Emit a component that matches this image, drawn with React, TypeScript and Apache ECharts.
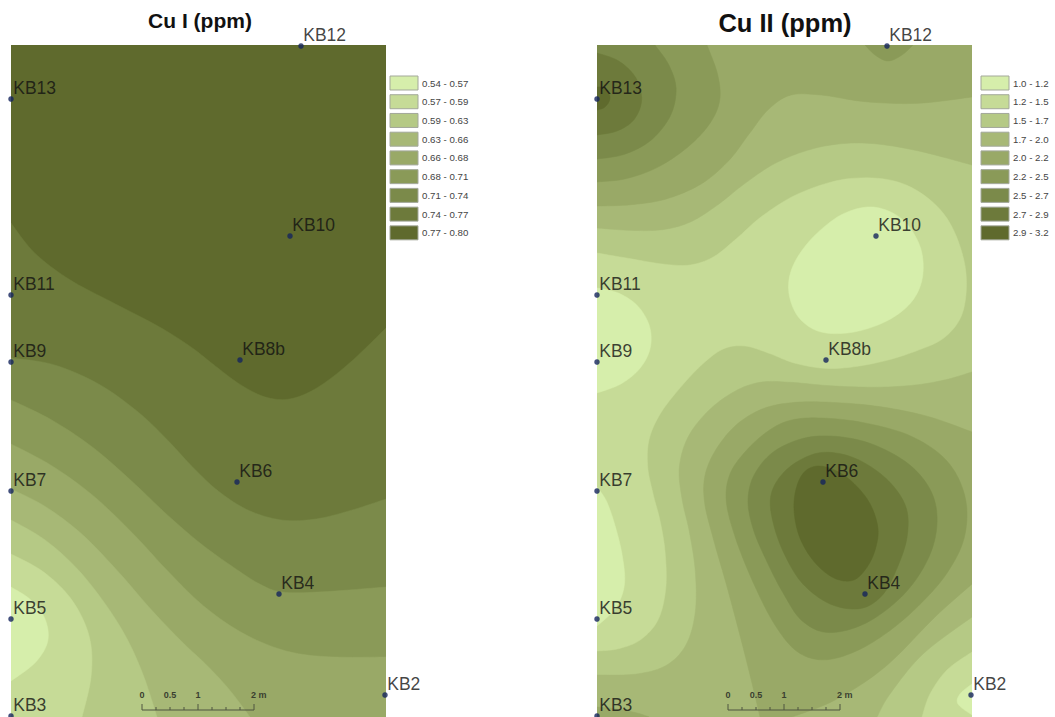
import React, { useEffect, useRef } from "react";
import * as echarts from "echarts";

type Pt = number[];

const FONT = '"Liberation Sans", Arial, sans-serif';
const palette = ["#d6eeab", "#c6db97", "#b5c985", "#a7b876", "#99a967", "#8a9a58", "#7b8a4a", "#6d7a3b", "#5f6a2d"];

const legendCuI = ["0.54 - 0.57", "0.57 - 0.59", "0.59 - 0.63", "0.63 - 0.66", "0.66 - 0.68", "0.68 - 0.71", "0.71 - 0.74", "0.74 - 0.77", "0.77 - 0.80"];
const legendCuII = ["1.0 - 1.2", "1.2 - 1.5", "1.5 - 1.7", "1.7 - 2.0", "2.0 - 2.2", "2.2 - 2.5", "2.5 - 2.7", "2.7 - 2.9", "2.9 - 3.2"];
const scaleTicks = ["0", "0.5", "1", "2 m"];
const scaleTickMetres = [0, 0.5, 1, 2];

const samplePoints: [string, number, number][] = [
  ["KB12", 290, 1], ["KB13", 0, 54], ["KB10", 279, 191], ["KB11", 0, 250], ["KB9", 0, 317], ["KB8b", 229, 315],
  ["KB6", 226, 437], ["KB7", 0, 446], ["KB4", 268, 549], ["KB5", 0, 574], ["KB2", 374, 650], ["KB3", 0, 671],
];

// Cu I isolines, in map units
const cuI_9_8: Pt[] = [[0,178],[22,208],[56,235],[106,258],[149,282],[182,303],[202,319],[229,340],[256,352],[279,354],[306,342],[339,319],[375,283]];
const cuI_8_7: Pt[] = [[0,313],[39,316],[89,339],[129,369],[156,395],[182,422],[206,445],[239,467],[272,475],[306,474],[339,465],[375,454]];
const cuI_7_6: Pt[] = [[0,355],[39,374],[82,400],[122,439],[156,469],[189,499],[222,522],[256,540],[268,547],[306,547],[375,542]];
const cuI_6_5: Pt[] = [[0,399],[39,419],[82,449],[122,489],[156,525],[189,559],[222,582],[256,599],[289,609],[322,612],[375,612]];
const cuI_5_4: Pt[] = [[0,444],[32,459],[72,489],[106,525],[139,565],[172,599],[196,619],[219,645],[239,672]];
const cuI_4_3: Pt[] = [[0,475],[32,492],[66,522],[92,559],[116,592],[132,629],[146,672]];
const cuI_3_2: Pt[] = [[0,509],[32,525],[62,555],[79,595],[81,629],[71,672]];
const cuI_2_1: Pt[] = [[0,542],[19,552],[34,575],[37,595],[26,619],[0,636]];

// Cu II isolines, in map units
const cuII_t43: Pt[] = [[0,183],[33,185],[67,185],[93,177],[117,163],[150,137],[173,120],[205,108],[238,100],[271,98],[321,105],[375,120]];
const cuII_t54: Pt[] = [[0,161],[33,159],[67,155],[107,140],[133,113],[150,92],[172,64],[195,48],[221,50],[271,58],[321,60],[375,52]];
const cuII_t65: Pt[] = [[110,0],[122,30],[122,57],[113,77],[90,103],[60,123],[27,135],[0,137]];
const cuII_t76: Pt[] = [[58,0],[72,20],[79,43],[75,70],[53,97],[27,110],[0,114]];
const cuII_t87: Pt[] = [[0,8],[20,13],[40,33],[45,55],[37,75],[20,87],[0,90]];
const cuII_t98: Pt[] = [[0,42],[8,43],[13,53],[8,62],[0,65]];
const cuII_kb12: Pt[] = [[268,0],[278,10],[291,16],[305,10],[316,0]];
const cuII_lobe2: Pt[] = [[0,208],[33,213],[67,219],[93,220],[117,213],[140,193],[167,170],[200,150],[255,132],[305,138],[348,168],[368,215],[365,272],[350,288],[316,305],[283,317],[230,326],[200,318],[173,308],[147,301],[127,303],[107,318],[83,345],[63,368],[52,395],[50,420],[57,452],[63,475],[68,505],[68,545],[63,575],[43,595],[20,604],[0,606]];
const cuII_hill4: Pt[] = [[375,327],[350,335],[316,340],[283,342],[233,342],[190,337],[167,337],[140,345],[113,365],[90,392],[82,422],[85,455],[93,485],[98,525],[98,569],[90,599],[67,622],[40,629],[0,630]];
const cuII_hill4b: Pt[] = [[280,672],[293,649],[326,609],[375,572]];
const cuII_hill5: Pt[] = [[375,387],[333,370],[283,362],[233,358],[200,358],[167,363],[140,378],[120,405],[108,432],[107,455],[117,495],[130,539],[143,592],[157,645],[163,672]];
const cuII_hill5b: Pt[] = [[195,672],[238,655],[288,622],[338,572],[375,539]];
const cuII_hill6: Pt[] = [[216,374],[266,377],[316,392],[350,415],[368,452],[368,495],[350,525],[323,559],[293,585],[260,605],[226,616],[200,606],[180,582],[157,539],[140,495],[128,452],[133,432],[150,405],[173,385],[195,376]];
const cuII_hill7: Pt[] = [[216,390],[266,395],[310,418],[333,445],[338,475],[333,512],[308,547],[271,579],[228,589],[205,575],[190,549],[170,519],[157,482],[150,455],[160,428],[180,405]];
const cuII_hill8: Pt[] = [[226,406],[256,412],[290,435],[310,462],[311,490],[296,525],[286,549],[266,565],[233,559],[203,539],[190,509],[177,479],[172,452],[183,435],[200,418]];
const cuII_hill9: Pt[] = [[226,421],[250,432],[273,455],[281,485],[278,502],[268,520],[258,539],[236,532],[216,515],[203,492],[195,462],[203,435],[212,426]];
const cuII_kb10: Pt[] = [[275,162],[305,172],[325,202],[323,232],[316,255],[293,275],[256,287],[223,288],[206,275],[193,255],[193,232],[201,212],[221,188],[248,168]];
const cuII_kb9: Pt[] = [[0,243],[21,247],[40,260],[54,282],[52,305],[43,322],[23,342],[0,348]];
const cuII_kb5: Pt[] = [[0,442],[10,452],[17,482],[25,512],[28,539],[20,565],[0,581]];
const cuII_kb2c2: Pt[] = [[325,672],[333,649],[350,625],[375,607]];
const cuII_kb2c1: Pt[] = [[375,639],[363,649],[361,659],[375,670]];
const cuII_kb3: Pt[] = [[0,662],[20,664],[40,668],[52,672]];

const MAP_W = 375;
const MAP_H = 672;
const TL: Pt = [0, 0];
const TR: Pt = [MAP_W, 0];
const BL: Pt = [0, MAP_H];
const BR: Pt = [MAP_W, MAP_H];

interface Layer { level: number; parts: Pt[][]; closed?: boolean }

const layersCuI: Layer[] = [
  { level: 8, parts: [[TL], [TR], [BR], [BL]] },
  { level: 7, parts: [cuI_9_8, [BR], [BL]] },
  { level: 6, parts: [cuI_8_7, [BR], [BL]] },
  { level: 5, parts: [cuI_7_6, [BR], [BL]] },
  { level: 4, parts: [cuI_6_5, [BR], [BL]] },
  { level: 3, parts: [cuI_5_4, [BL]] },
  { level: 2, parts: [cuI_4_3, [BL]] },
  { level: 1, parts: [cuI_3_2, [BL]] },
  { level: 0, parts: [cuI_2_1] },
];

const layersCuII: Layer[] = [
  { level: 2, parts: [[TL], [TR], [BR], [BL]] },
  { level: 1, parts: [cuII_lobe2] },
  { level: 3, parts: [cuII_t43, [TR], [TL]] },
  { level: 4, parts: [cuII_t54, [TR], [TL]] },
  { level: 5, parts: [cuII_t65, [TL]] },
  { level: 6, parts: [cuII_t76, [TL]] },
  { level: 7, parts: [cuII_t87] },
  { level: 8, parts: [cuII_t98] },
  { level: 5, parts: [cuII_kb12] },
  { level: 0, parts: [cuII_kb10], closed: true },
  { level: 0, parts: [cuII_kb9] },
  { level: 0, parts: [cuII_kb5] },
  { level: 3, parts: [cuII_hill4, [BL], cuII_hill4b] },
  { level: 4, parts: [cuII_hill5, cuII_hill5b] },
  { level: 5, parts: [cuII_hill6], closed: true },
  { level: 6, parts: [cuII_hill7], closed: true },
  { level: 7, parts: [cuII_hill8], closed: true },
  { level: 8, parts: [cuII_hill9], closed: true },
  { level: 1, parts: [cuII_kb2c2, [BR]] },
  { level: 0, parts: [cuII_kb2c1] },
  { level: 4, parts: [cuII_kb3, [BL]] },
];

// Evens out the hand-read jitter of the vertices without shrinking the shape:
// a smoothing step followed by a slightly stronger inverse step.
function relax(pts: Pt[], closed: boolean): Pt[] {
  const n = pts.length;
  if (n < 6) return pts;
  let cur = pts;
  const step = (w: number) => {
    const src = cur;
    cur = src.map((p, i) => {
      if (!closed && (i === 0 || i === n - 1)) return p;
      const a = src[(i - 1 + n) % n];
      const b = src[(i + 1) % n];
      return [0, 1].map((k) => p[k] + w * ((a[k] + b[k]) / 2 - p[k]));
    });
  };
  for (let pass = 0; pass < 3; pass++) {
    step(0.45);
    step(-0.47);
  }
  return cur;
}

function spline(raw: Pt[], closed: boolean): Pt[] {
  if (raw.length < 3) return raw;
  const pts = relax(raw, closed);
  const n = pts.length;
  const at = (i: number) => (closed ? pts[(i + n) % n] : pts[Math.max(0, Math.min(n - 1, i))]);
  const out: Pt[] = [];
  const last = closed ? n : n - 1;
  for (let i = 0; i < last; i++) {
    const [p0, p1, p2, p3] = [at(i - 1), at(i), at(i + 1), at(i + 2)];
    for (let s = 0; s < 10; s++) {
      const t = s / 10;
      const t2 = t * t;
      const t3 = t2 * t;
      out.push([0, 1].map((k) =>
        0.5 * (2 * p1[k] + (p2[k] - p0[k]) * t + (2 * p0[k] - 5 * p1[k] + 4 * p2[k] - p3[k]) * t2 + (3 * p1[k] - p0[k] - 3 * p2[k] + p3[k]) * t3)));
    }
  }
  if (!closed) out.push(pts[n - 1]);
  return out;
}

function contourSeries(layers: Layer[], gridIndex: number) {
  return {
    type: "custom",
    xAxisIndex: gridIndex,
    yAxisIndex: gridIndex,
    clip: true,
    silent: true,
    z: 1,
    data: layers.map((_, i) => [i]),
    encode: { x: 0 },
    renderItem: (_p: any, api: any) => {
      const layer = layers[api.value(0)];
      const points: number[][] = [];
      layer.parts.forEach((part) => {
        spline(part, !!layer.closed).forEach((q) => points.push(api.coord(q)));
      });
      return { type: "polygon", shape: { points }, style: { fill: palette[layer.level], stroke: palette[layer.level], lineWidth: 0.5 } };
    },
  };
}

function pointSeries(gridIndex: number) {
  return {
    type: "scatter",
    xAxisIndex: gridIndex,
    yAxisIndex: gridIndex,
    clip: false,
    silent: true,
    z: 5,
    symbolSize: 5.5,
    itemStyle: { color: "#14245c" },
    data: samplePoints.map(([name, x, y]) => ({ name, value: [x, y] })),
    label: {
      show: true,
      formatter: "{b}",
      position: "right",
      distance: 0,
      offset: [-0.5, -11.5],
      fontFamily: FONT,
      fontSize: 17.5,
      color: "#111111",
    },
  };
}

function legendGraphics(labels: string[], x: number, y: number) {
  const out: any[] = [];
  labels.forEach((text, i) => {
    const top = y + i * 18.73;
    out.push({ type: "rect", z: 10, shape: { x, y: top, width: 28, height: 14 }, style: { fill: palette[i], stroke: "#a3a89a", lineWidth: 1 } });
    out.push({ type: "text", z: 10, x: x + 32, y: top + 7, style: { text, fill: "#444", font: `9.7px ${FONT}`, textVerticalAlign: "middle" } });
  });
  return out;
}

function scaleBar(x: number, y: number) {
  const pxPerMetre = 56;
  const c = "#4e5540";
  const out: any[] = [{ type: "line", z: 10, shape: { x1: x, y1: y, x2: x + 2 * pxPerMetre, y2: y }, style: { stroke: c, lineWidth: 1 } }];
  for (let i = 0; i <= 8; i++) {
    const tx = x + (i * pxPerMetre) / 4;
    out.push({ type: "line", z: 10, shape: { x1: tx, y1: y, x2: tx, y2: y - (i % 4 === 0 ? 6 : 3) }, style: { stroke: c, lineWidth: 1 } });
  }
  scaleTicks.forEach((text, i) => {
    const tx = x + scaleTickMetres[i] * pxPerMetre;
    const isLast = i === scaleTicks.length - 1;
    out.push({
      type: "text", z: 10, x: isLast ? tx - 3 : tx, y: y - 15,
      style: { text, fill: "#3a3f30", font: `bold 9px ${FONT}`, textAlign: isLast ? "left" : "center", textVerticalAlign: "middle" },
    });
  });
  return out;
}

const hiddenAxis = (gridIndex: number, max: number, inverse: boolean) => ({
  type: "value", gridIndex, min: 0, max, inverse, show: false,
});

export default function App() {
  const ref = useRef<HTMLDivElement>(null);
  useEffect(() => {
    const chart = echarts.init(ref.current!, undefined, { renderer: "svg" });
    chart.setOption({
      animation: false,
      backgroundColor: "#ffffff",
      title: [
        { text: "Cu I (ppm)", left: 195, top: 5, textAlign: "center", textStyle: { fontFamily: FONT, fontSize: 21, fontWeight: "bold", color: "#111" } },
        { text: "Cu II (ppm)", left: 780, top: 5, textAlign: "center", textStyle: { fontFamily: FONT, fontSize: 25.5, fontWeight: "bold", color: "#111" } },
      ],
      grid: [
        { left: 11, top: 45, width: MAP_W, height: MAP_H },
        { left: 597, top: 45, width: MAP_W, height: MAP_H },
      ],
      xAxis: [hiddenAxis(0, MAP_W, false), hiddenAxis(1, MAP_W, false)],
      yAxis: [hiddenAxis(0, MAP_H, true), hiddenAxis(1, MAP_H, true)],
      series: [contourSeries(layersCuI, 0), contourSeries(layersCuII, 1), pointSeries(0), pointSeries(1)],
      graphic: [
        ...legendGraphics(legendCuI, 390, 76),
        ...legendGraphics(legendCuII, 981, 76),
        ...scaleBar(142, 710),
        ...scaleBar(728, 710),
      ],
    });
    return () => chart.dispose();
  }, []);
  return <div ref={ref} style={{ position: "absolute", left: 0, top: 0, width: 1055, height: 717 }} />;
}
